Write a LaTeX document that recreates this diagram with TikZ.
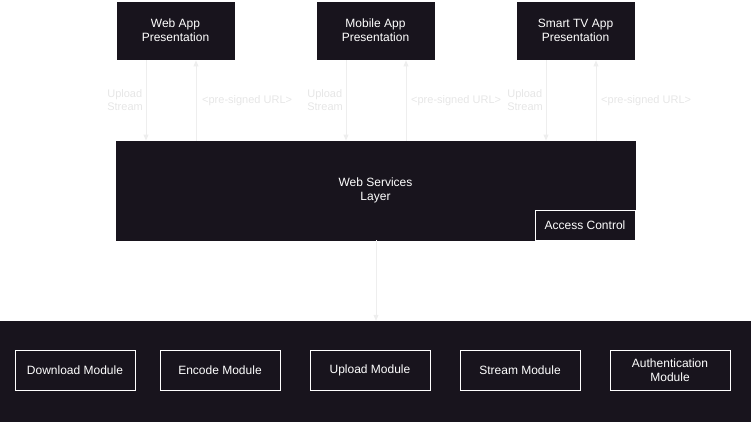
\documentclass[tikz,border=0pt]{standalone}
\usepackage{fontspec}
\setmainfont{Liberation Sans}
\usetikzlibrary{arrows.meta}
\definecolor{darkbg}{HTML}{18141D}
\definecolor{arrowgray}{HTML}{EEEEEE}
\definecolor{labelgray}{HTML}{E6E6E6}
\begin{document}
\begin{tikzpicture}[x=1pt,y=-1pt,
  dbox/.style={draw=white,line width=0.8pt,fill=darkbg,text=white,align=center,font=\fontsize{12}{14}\selectfont,inner sep=0pt},
  mbox/.style={draw=white,line width=0.8pt,fill=darkbg,text=white,align=center,font=\fontsize{12}{14}\selectfont,minimum width=120pt,minimum height=40pt,inner sep=0pt},
  conn/.style={draw=arrowgray,line width=0.8pt,-{Triangle[length=6pt,width=5pt,open,fill=arrowgray]}},
  lbl/.style={text=labelgray,font=\fontsize{11}{13}\selectfont,inner sep=0pt}]
\useasboundingbox (0,0) rectangle (751,421);
% top presentation boxes
\node[dbox,minimum width=119pt,minimum height=59pt] (web) at (175.5,30.5) {Web App\\Presentation};
\node[dbox,minimum width=119pt,minimum height=59pt] (mob) at (375.5,30.5) {Mobile App\\Presentation};
\node[dbox,minimum width=119pt,minimum height=59pt] (tv) at (575.5,30.5) {Smart TV App\\Presentation};
% web services layer
\node[dbox,draw=darkbg,minimum width=519pt,minimum height=99pt] (ws) at (375.5,190.5) {Web Services\\Layer};
\node[dbox,minimum width=100pt,minimum height=30pt] (ac) at (585,225) {Access Control};
% bottom container
\node[fill=darkbg,draw=darkbg,minimum width=751pt,minimum height=100pt,inner sep=0pt] (cont) at (375.5,371) {};
\node[mbox] (dl) at (75,370) {Download Module};
\node[mbox] (enc) at (220,370) {Encode Module};
\node[mbox] (up) at (370,370) {Upload Module};
\node[mbox] (st) at (520,370) {Stream Module};
\node[mbox] (auth) at (670,370) {Authentication\\Module};
% connectors
\foreach \src/\dx in {web/146,mob/346,tv/546}{
  \draw[conn] (\src.south -| \dx,0) -- (ws.north -| \dx,0);
}
\foreach \src/\dx in {web/196,mob/406,tv/596}{
  \draw[conn] (ws.north -| \dx,0) -- (\src.south -| \dx,0);
}
\draw[conn] (ws.south -| 376,0) -- (cont.north -| 376,0);
% labels
\foreach \n/\xx in {1/143,2/343,3/543}{
  \node[lbl,anchor=east,align=left] (ul\n) at (\xx,100) {Upload\\Stream};
}
\foreach \n/\xx in {1/202,2/411,3/601}{
  \node[lbl,anchor=west] (pl\n) at (\xx,100.5) {<pre-signed URL>};
}
\end{tikzpicture}
\end{document}
